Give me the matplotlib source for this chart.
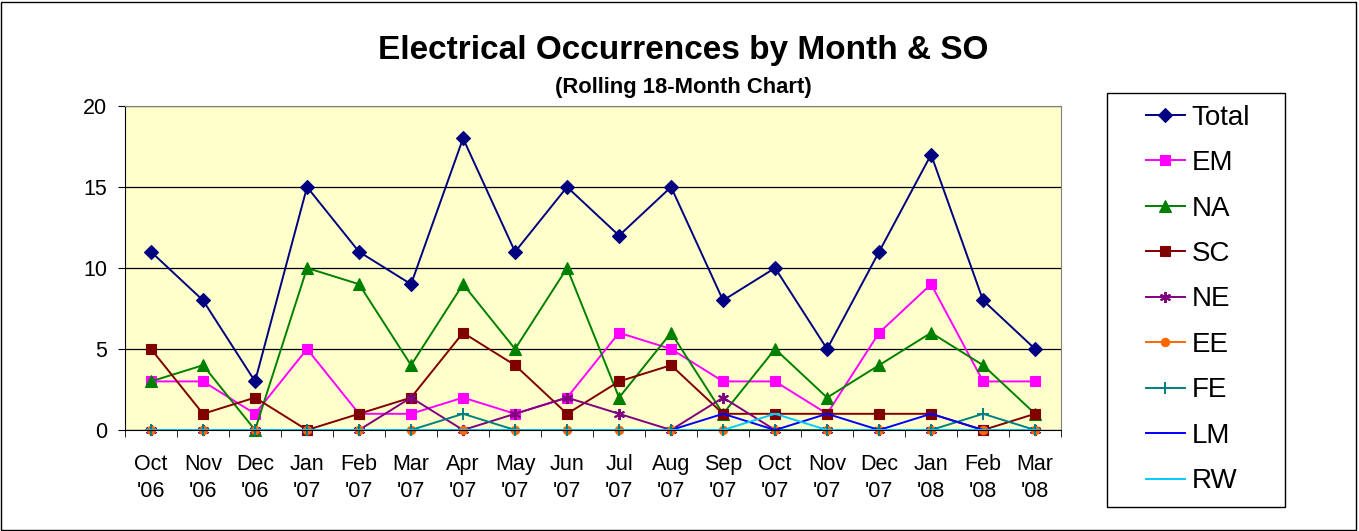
import numpy as np
import matplotlib
matplotlib.use("Agg")
import matplotlib.pyplot as plt
from matplotlib.patches import Rectangle

plt.rcParams['font.family'] = ['Liberation Sans', 'DejaVu Sans']

months = ["Oct\n'06", "Nov\n'06", "Dec\n'06", "Jan\n'07", "Feb\n'07", "Mar\n'07",
          "Apr\n'07", "May\n'07", "Jun\n'07", "Jul\n'07", "Aug\n'07", "Sep\n'07",
          "Oct\n'07", "Nov\n'07", "Dec\n'07", "Jan\n'08", "Feb\n'08", "Mar\n'08"]

total = [11, 8, 3, 15, 11, 9, 18, 11, 15, 12, 15, 8, 10, 5, 11, 17, 8, 5]
em = [3, 3, 1, 5, 1, 1, 2, 1, 2, 6, 5, 3, 3, 1, 6, 9, 3, 3]
na = [3, 4, 0, 10, 9, 4, 9, 5, 10, 2, 6, 1, 5, 2, 4, 6, 4, 1]
sc = [5, 1, 2, 0, 1, 2, 6, 4, 1, 3, 4, 1, 1, 1, 1, 1, 0, 1]
ne = [0, 0, 0, 0, 0, 2, 0, 1, 2, 1, 0, 2, 0, 0, 0, 0, 0, 0]
ee = [0] * 18
fe = [0, 0, 0, 0, 0, 0, 1, 0, 0, 0, 0, 0, 0, 0, 0, 0, 1, 0]
lm = [0, 0, 0, 0, 0, 0, 0, 0, 0, 0, 0, 1, 0, 1, 0, 1, 0, 0]
rw = [0, 0, 0, 0, 0, 0, 0, 0, 0, 0, 0, 0, 1, 0, 0, 0, 0, 0]

# name, values, colour, marker, marker size
series = [
    ("Total", total, "#000080", "D", 7),
    ("EM", em, "#FF00FF", "s", 6.5),
    ("NA", na, "#008000", "^", 8),
    ("SC", sc, "#800000", "s", 6.5),
    ("NE", ne, "#800080", (6, 2, 0), 8),
    ("EE", ee, "#FF6600", "o", 6),
    ("FE", fe, "#008080", "+", 9),
    ("LM", lm, "#0000FF", "_", 6),
    ("RW", rw, "#00CCFF", "_", 7),
]

fig = plt.figure(figsize=(13.59, 5.31), dpi=100)
ax = fig.add_axes([0.092, 0.1902, 0.6888, 0.6102])
ax.set_facecolor("#FFFFCC")

x = np.arange(len(months))
for name, vals, col, mk, ms in series:
    ax.plot(x, vals, color=col, marker=mk, markersize=ms, linewidth=1.4,
            markeredgewidth=1.4 if mk in ("+", "_", (6, 2, 0)) else 0.8,
            label=name, clip_on=False)

ax.set_xlim(-0.5, len(months) - 0.5)
ax.set_ylim(0, 20)
ax.set_yticks([0, 5, 10, 15, 20])
ax.yaxis.grid(True, color="black", linewidth=0.9)
ax.set_axisbelow(True)

ax.set_xticks(x)
ax.set_xticklabels(months, fontsize=15.5, linespacing=1.4)
ax.tick_params(axis="x", which="major", length=0, pad=17)
ax.set_xticks(np.arange(-0.5, len(months), 1), minor=True)
ax.tick_params(axis="x", which="minor", length=5, color="black")
ax.tick_params(axis="y", labelsize=15.5, length=5, pad=8, color="black")

for side in ("top", "right"):
    ax.spines[side].set_color("#808080")
for side in ("left", "bottom"):
    ax.spines[side].set_color("black")

fig.text(0.503, 0.905, "Electrical Occurrences by Month & SO", ha="center",
         va="center", fontsize=24, fontweight="bold")
fig.text(0.503, 0.835, "(Rolling 18-Month Chart)", ha="center",
         va="center", fontsize=15.8, fontweight="bold")

leg = fig.legend(loc="center left", bbox_to_anchor=(0.8435, 0.436), fontsize=20,
                 labelspacing=0.7, frameon=False, borderpad=0, handlelength=1.38,
                 handletextpad=0.25, borderaxespad=0)

fig.patches.append(Rectangle((0.8146, 0.0452), 0.131, 0.7797, transform=fig.transFigure,
                             fill=False, edgecolor="black", linewidth=1.0))
fig.patches.append(Rectangle((0.001, 0.002), 0.997, 0.995, transform=fig.transFigure,
                             fill=False, edgecolor="black", linewidth=1.0))

fig.savefig("out.png", dpi=100)
